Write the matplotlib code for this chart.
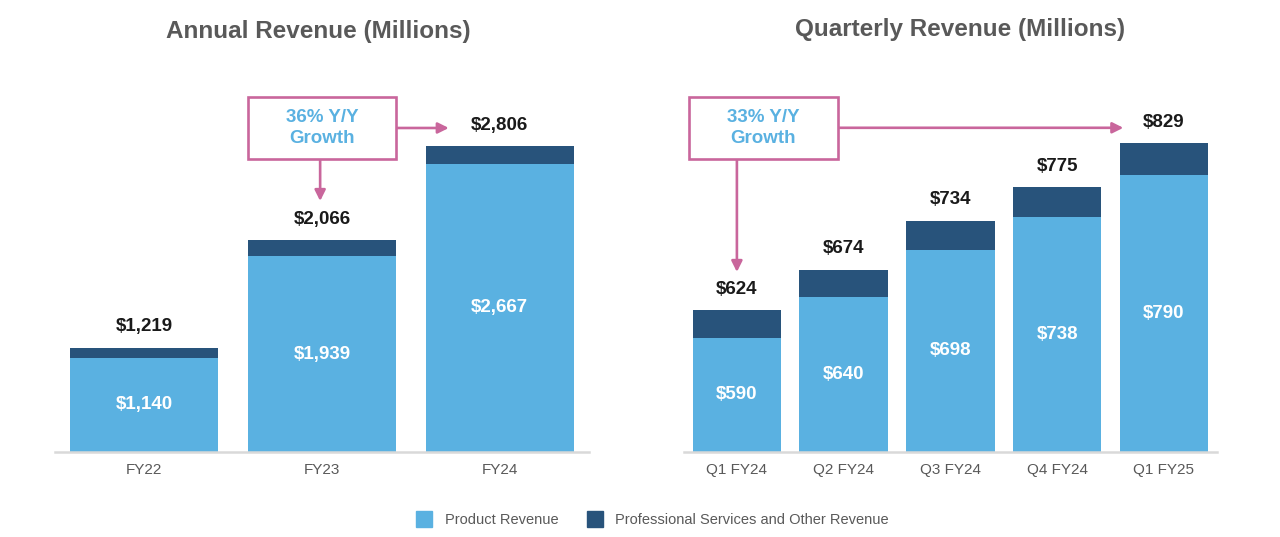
import matplotlib
matplotlib.use("Agg")
import matplotlib.pyplot as plt
from matplotlib.patches import Rectangle
from matplotlib.lines import Line2D

plt.rcParams['font.family'] = ['Liberation Sans', 'DejaVu Sans']

# ---- data ----
annual_labels = ["FY22", "FY23", "FY24"]
annual_product = [1140, 1939, 2667]
annual_total = [1219, 2066, 2806]
annual_growth = "36% Y/Y\nGrowth"

quarter_labels = ["Q1 FY24", "Q2 FY24", "Q3 FY24", "Q4 FY24", "Q1 FY25"]
quarter_product = [590, 640, 698, 738, 790]
quarter_total = [624, 674, 734, 775, 829]
quarter_growth = "33% Y/Y\nGrowth"

LIGHT = "#5AB1E1"
DARK = "#28537B"
PINK = "#C9669C"
GRAY = "#595959"
AXIS = "#D9D9D9"

fig = plt.figure(figsize=(12.8, 5.37), dpi=100)

def money(v):
    return "${:,}".format(v)

def draw(ax, labels, product, total, ymin, ymax):
    x = list(range(len(labels)))
    other = [t - p for t, p in zip(total, product)]
    ax.bar(x, product, width=0.83, color=LIGHT, zorder=2)
    ax.bar(x, other, bottom=product, width=0.83, color=DARK, zorder=2)
    ax.set_ylim(ymin, ymax)
    ax.set_xlim(-0.5, len(labels) - 0.5)
    ax.set_xticks(x)
    ax.set_xticklabels(labels, fontsize=11, color=GRAY)
    ax.tick_params(axis='x', length=0, pad=8)
    ax.set_yticks([])
    for s in ['left', 'right', 'top']:
        ax.spines[s].set_visible(False)
    ax.spines['bottom'].set_color(AXIS)
    ax.spines['bottom'].set_linewidth(1.8)
    for xi, p, t in zip(x, product, total):
        ax.text(xi, (ymin + p) / 2, money(p), ha='center', va='center',
                color='white', fontsize=13.5, fontweight='bold', zorder=3)
        ax.annotate(money(t), (xi, t), xytext=(0, 15), textcoords='offset points',
                    ha='center', va='center', color='#1A1A1A', fontsize=13.5,
                    fontweight='bold', annotation_clip=False)

def growth_box(ax, x0, x1, y0, y1, text, right_tip_x, down_x, down_tip_y):
    rect = Rectangle((x0, y0), x1 - x0, y1 - y0, facecolor='white', edgecolor=PINK,
                     linewidth=1.9, zorder=5, clip_on=False)
    ax.add_patch(rect)
    ym = (y0 + y1) / 2
    ax.text((x0 + x1) / 2, ym, text, ha='center', va='center', color=LIGHT,
            fontsize=13.5, fontweight='bold', zorder=6, linespacing=1.3)
    ap = dict(arrowstyle='-|>', color=PINK, lw=1.9, mutation_scale=16,
              shrinkA=0, shrinkB=0)
    ax.annotate("", xy=(right_tip_x, ym), xytext=(x1, ym), arrowprops=ap,
                annotation_clip=False)
    ax.annotate("", xy=(down_x, down_tip_y), xytext=(down_x, y0), arrowprops=ap,
                annotation_clip=False)

# Annual
ax1 = fig.add_axes([0.043, 0.1583, 0.417, 0.6633])
draw(ax1, annual_labels, annual_product, annual_total, 400, 3200)
growth_box(ax1, 0.585, 1.415, 2703, 3191, annual_growth, 1.713, 0.99, 2373)

# Quarterly
ax2 = fig.add_axes([0.534, 0.1583, 0.417, 0.6826])
draw(ax2, quarter_labels, quarter_product, quarter_total, 450, 900)
growth_box(ax2, -0.45, 0.947, 810, 886, quarter_growth, 3.62, 0.0, 671)

fig.text(0.249, 0.941, "Annual Revenue (Millions)", ha='center', va='center',
         fontsize=17.5, fontweight='bold', color=GRAY)
fig.text(0.75, 0.945, "Quarterly Revenue (Millions)", ha='center', va='center',
         fontsize=17.5, fontweight='bold', color=GRAY)

handles = [Line2D([], [], marker='s', linestyle='none', markersize=12,
                  markerfacecolor=LIGHT, markeredgecolor=LIGHT),
           Line2D([], [], marker='s', linestyle='none', markersize=12,
                  markerfacecolor=DARK, markeredgecolor=DARK)]
fig.legend(handles, ["Product Revenue", "Professional Services and Other Revenue"],
           loc='center', bbox_to_anchor=(0.51, 0.031), ncol=2, frameon=False,
           fontsize=10.5, labelcolor=GRAY, handlelength=1.0, handletextpad=0.9,
           columnspacing=2.0)

fig.savefig("out.png", dpi=100, facecolor='white')
